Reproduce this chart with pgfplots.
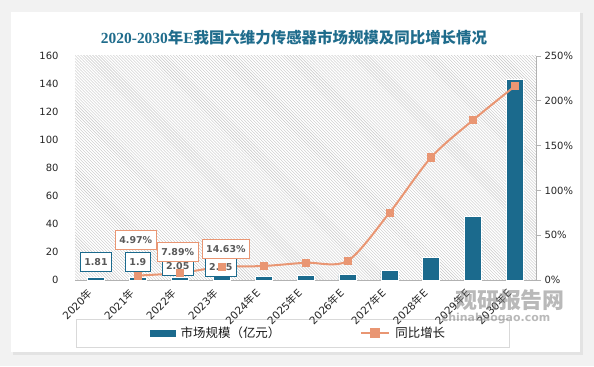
\documentclass[border=0pt]{standalone}
\usepackage{pgfplots}
\pgfplotsset{compat=1.18}
\usepackage{fontspec}
\setmainfont{DejaVu Sans}
\newfontfamily\cjk{Noto Sans CJK SC}
\newfontfamily\tserif{Liberation Serif}
\usetikzlibrary{patterns}
\definecolor{barc}{HTML}{1B6A8D}
\definecolor{linec}{HTML}{E99673}
\definecolor{titlec}{HTML}{1F6C8C}
\definecolor{txt}{HTML}{595959}
\begin{document}
\begin{tikzpicture}[x=1bp,y=1bp]
\useasboundingbox (0,0) rectangle (594,366);
\fill[gray!10] (0,0) rectangle (594,366);
\fill[gray!22] (13,11) rectangle (583,353);
\fill[white] (11,14) rectangle (580,354);
\node[text=titlec, inner sep=0] at (294,328) {\fontsize{15.5}{18}\selectfont{\tserif\bfseries 2020-2030}{\cjk\bfseries 年}{\tserif\bfseries E}{\cjk\bfseries 我国六维力传感器市场规模及同比增长情况}};
\draw[gray!30, line width=1bp] (76,19) rectangle (509,47);

\begin{axis}[
  at={(75bp,86bp)}, anchor=south west, scale only axis,
  width=461bp, height=224bp,
  xmin=-0.5, xmax=10.5, ymin=0, ymax=160,
  ytick={0,20,...,160},
  xtick={0,...,10},
  xticklabels={2020{\cjk 年},2021{\cjk 年},2022{\cjk 年},2023{\cjk 年},2024{\cjk 年}E,2025{\cjk 年}E,2026{\cjk 年}E,2027{\cjk 年}E,2028{\cjk 年}E,2029{\cjk 年}E,2030{\cjk 年}E},
  axis x line*=bottom, axis y line*=left,
  y axis line style={draw=none},
  x axis line style={draw=gray!60, line width=1bp},
  xtick style={draw=none}, ytick style={draw=none},
  axis background/.style={pattern=north west lines, pattern color=gray!45},
  tick label style={font=\fontsize{10}{12}\selectfont, text=black!85},
  yticklabel style={xshift=-13bp},
  xticklabel style={yshift=-9bp, xshift=-3bp, rotate=45, anchor=east, font=\fontsize{10.5}{12}\selectfont},
  /pgf/number format/assume math mode=true,
]
\addplot[ybar, bar width=17bp, fill=barc, draw=white, line width=0.6bp] coordinates {
(0,1.81) (1,1.9) (2,2.05) (3,2.35) (4,2.72) (5,3.24) (6,3.93) (7,6.87) (8,16.3) (9,45.4) (10,143.5)};
\end{axis}

\begin{axis}[
  at={(75bp,86bp)}, anchor=south west, scale only axis,
  width=461bp, height=224bp,
  xmin=-0.5, xmax=10.5, ymin=0, ymax=250,
  ytick={0,50,...,250},
  yticklabel={\pgfmathprintnumber{\tick}\%},
  axis x line=none, axis y line*=right,
  y axis line style={draw=gray!60, line width=1bp},
  ytick style={draw=gray!60, line width=0.8bp},
  tick align=outside, major tick length=5bp,
  tick label style={font=\fontsize{10}{12}\selectfont, text=black!85},
  /pgf/number format/assume math mode=true,
  legend style={at={(0.163,-0.237)}, anchor=west, draw=none, fill=none, inner sep=0pt,
    font=\cjk\fontsize{12.5}{14}\selectfont, text=black!90,
    /tikz/every odd column/.append style={column sep=3bp},
    /tikz/every even column/.append style={column sep=78bp}},
  legend columns=2,
]
\addlegendimage{legend image code/.code={\fill[barc] (0bp,-3bp) rectangle (25bp,3bp);}}
\addlegendentry{市场规模（亿元）}
\addplot[linec, line width=2bp, smooth, mark=square*, mark size=3.5bp,
  mark options={fill=linec, draw=linec, line width=0.5bp},
  legend image code/.code={\draw[linec, line width=2bp] (0bp,0bp) -- (28bp,0bp);
    \fill[linec] (10bp,-4bp) rectangle (18bp,4bp);}] coordinates {
(1,4.97) (2,7.89) (3,14.63) (4,15.6) (5,19.3) (6,21.2) (7,74.8) (8,137) (9,178.6) (10,216.5)};
\addlegendentry{同比增长}
\tikzset{bl/.style={draw=barc, line width=1bp, fill=white, text=txt, inner xsep=4bp, inner ysep=0pt, minimum height=19bp, font=\bfseries\fontsize{9.5}{11}\selectfont},
 gl/.style={draw=linec, line width=1bp, fill=white, text=txt, inner xsep=4bp, inner ysep=0pt, minimum height=19bp, font=\bfseries\fontsize{9.5}{11}\selectfont}}
\node[bl] at (axis cs:0,20.1) {1.81};
\node[bl] at (axis cs:1,20.1) {1.9};
\node[bl] at (axis cs:1.95,15.6) {2.05};
\node[bl] at (axis cs:2.98,14.5) {2.35};
\node[gl] at (axis cs:0.95,44.6) {4.97\%};
\node[gl] at (axis cs:1.95,31.3) {7.89\%};
\node[gl] at (axis cs:3.1,34.6) {14.63\%};
\end{axis}
\node[text=gray, opacity=0.55, font=\cjk\bfseries\fontsize{22}{24}\selectfont, inner sep=0] at (510,66) {观研报告网};
\node[text=gray, opacity=0.55, font=\bfseries\fontsize{11}{12}\selectfont, inner sep=0] at (496,47) {chinabaogao.com};
\end{tikzpicture}
\end{document}
